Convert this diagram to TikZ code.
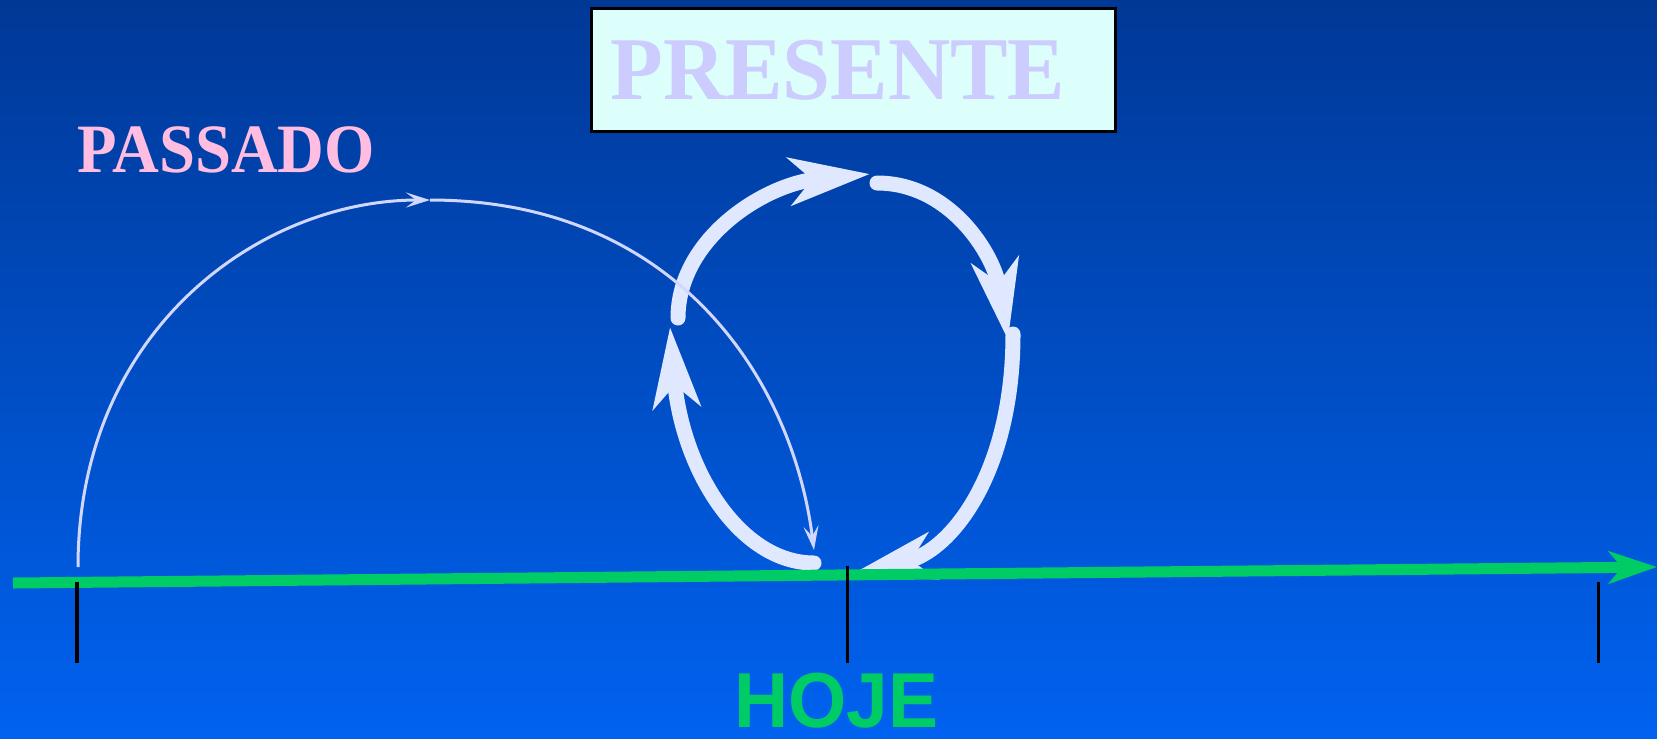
\documentclass[tikz,border=0pt]{standalone}
\usepackage{fontspec}
\setmainfont{Liberation Serif}
\setsansfont{Liberation Sans}
\usetikzlibrary{arrows.meta}

\definecolor{bgtop}{RGB}{0,56,150}
\definecolor{bgbottom}{RGB}{0,98,240}
\definecolor{boxfill}{RGB}{221,255,251}
\definecolor{presentcol}{RGB}{204,204,255}
\definecolor{pastcol}{RGB}{255,190,225}
\definecolor{hojegreen}{RGB}{0,204,102}
\definecolor{cyclecol}{RGB}{224,232,255}
\definecolor{arccol}{RGB}{210,215,255}

\begin{document}
\begin{tikzpicture}[
    x=0.01cm, y=-0.01cm,
    presentbox/.style={rectangle, draw=black, line width=0.85pt, fill=boxfill, inner xsep=0.19cm, inner ysep=0pt, text width=4.86cm, minimum height=1.23cm, align=left, font=\bfseries\fontsize{24.5}{29}\selectfont, text=presentcol},
    pastlabel/.style={anchor=base west, inner sep=0pt, font=\bfseries\fontsize{18.4}{22}\selectfont, text=pastcol},
    hojelabel/.style={anchor=base, inner sep=0pt, font=\sffamily\bfseries\fontsize{21.3}{26}\selectfont, text=hojegreen},
    cyclearrow/.style={draw=cyclecol, line width=0.15cm, line cap=round, -{Stealth[length=0.8cm, width=0.47cm, inset=0.22cm]}},
    pastarrow/.style={draw=arccol, line width=0.03cm, -{Stealth[length=0.24cm, width=0.15cm, inset=0.1cm]}},
    timeline/.style={draw=hojegreen, line width=0.11cm, -{Stealth[length=0.48cm, width=0.32cm, inset=0.13cm]}},
    tickline/.style={draw=black, line width=0.03cm},
]
    \useasboundingbox (0,0) rectangle (1657,738);
    \shade[top color=bgtop, bottom color=bgbottom] (0,0) rectangle (1657,738);

    % cycle round the present
    \coordinate (leftup) at (678,318);
    \coordinate (topmid) at (870,174);
    \coordinate (topright) at (877,183);
    \coordinate (rightmid) at (1008,340);
    \coordinate (rightlow) at (1013,334);
    \coordinate (bottommid) at (854,573);
    \coordinate (bottomstart) at (814,563);
    \coordinate (leftmid) at (670,327);
    \draw[cyclearrow] (leftup) .. controls (678,239) and (764,184) .. (topmid);
    \draw[cyclearrow] (topright) .. controls (950,183) and (994,254) .. (rightmid);
    \draw[cyclearrow] (rightlow) .. controls (1013,473) and (951,552) .. (bottommid);
    \draw[cyclearrow] (bottomstart) .. controls (740,563) and (682,470) .. (leftmid);

    % past to today
    \coordinate (past) at (78,567);
    \coordinate (pasttop) at (430,200);
    \coordinate (now) at (814,550);
    \draw[pastarrow] (past) .. controls (78,331) and (259,200) .. (pasttop);
    \draw[pastarrow] (pasttop) .. controls (674,200) and (792,377) .. (now);

    % timeline
    \coordinate (tstart) at (13,583);
    \coordinate (tend) at (1657,567);
    \draw[timeline] (tstart) -- (tend);
    \draw[tickline] (77,582) -- (77,663);
    \draw[tickline] (847,566) -- (847,663);
    \draw[tickline] (1598,582) -- (1598,663);

    % labels
    \node[presentbox] (presente) at (853.5,70) {\scalebox{1}[1.04]{PRESENTE}};
    \node[pastlabel] (passado) at (77,172) {\scalebox{1}[1.07]{PASSADO}};
    \node[hojelabel] (hoje) at (836,727) {\scalebox{1}[1.04]{HOJE}};
\end{tikzpicture}
\end{document}
